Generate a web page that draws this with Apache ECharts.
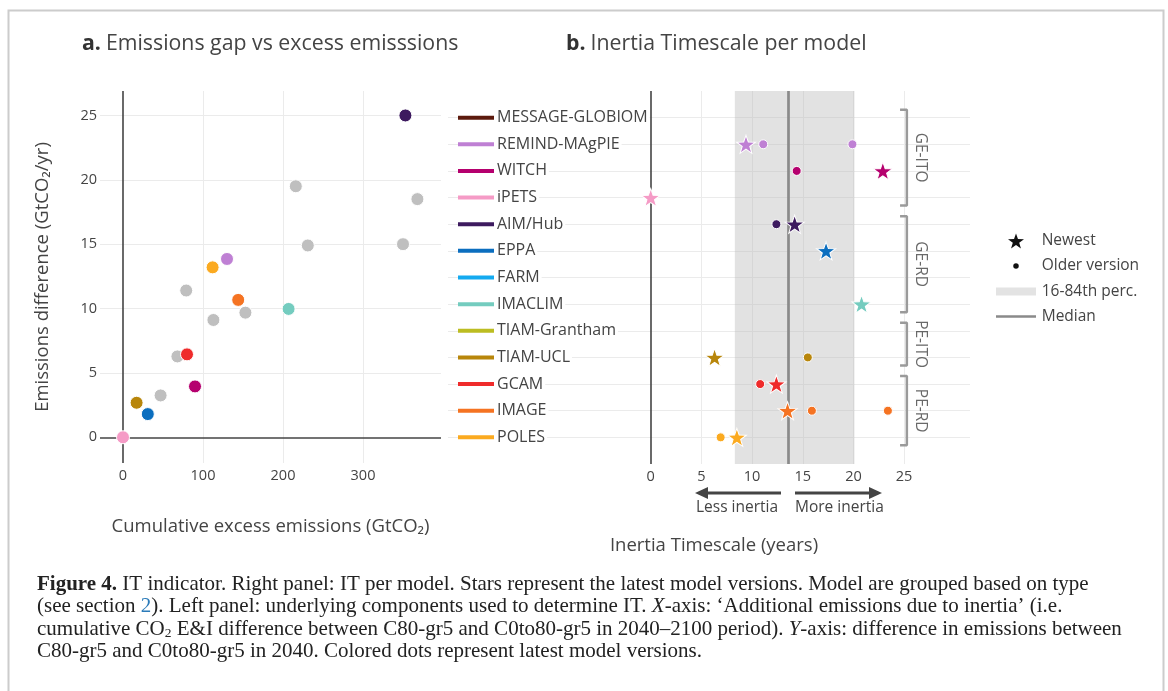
<!DOCTYPE html>
<html><head><meta charset="utf-8">
<script src="https://cdn.jsdelivr.net/npm/echarts@6/dist/echarts.min.js"></script>
<style>html,body{margin:0;padding:0;background:#fff}#c{width:1168px;height:691px}</style>
</head><body><div id="c"></div>
<script>
// ---------- Panel a data ----------
const aLatestModels = ['AIM/Hub','REMIND-MAgPIE','POLES','IMAGE','IMACLIM','GCAM','WITCH','TIAM-UCL','EPPA','iPETS'];
const aLatestX = [353, 130, 112, 144, 207, 80, 90, 17, 31, 0];
const aLatestY = [25.0, 13.85, 13.2, 10.67, 9.97, 6.44, 3.95, 2.68, 1.8, 0];
const aOlderX = [216, 368, 231, 350, 79, 153, 113, 68, 47];
const aOlderY = [19.5, 18.5, 14.9, 15.0, 11.4, 9.68, 9.11, 6.28, 3.25];
const aXTicks = [0, 100, 200, 300];
const aYTicks = [0, 5, 10, 15, 20, 25];

// ---------- Panel b data ----------
const models = ['MESSAGE-GLOBIOM','REMIND-MAgPIE','WITCH','iPETS','AIM/Hub','EPPA','FARM','IMACLIM','TIAM-Grantham','TIAM-UCL','GCAM','IMAGE','POLES'];
const modelColors = ['#5c1a0d','#bf80d4','#b5006e','#f59bc6','#3d1a5f','#0b6ebf','#14aaf0','#74ccbf','#bcbd22','#b8860b','#ef2b2b','#f57322','#fbaa20'];
const newestIT = [null, 9.4, 22.9, 0.0, 14.2, 17.3, null, 20.8, null, 6.3, 12.4, 13.5, 8.5];
const olderModels = ['REMIND-MAgPIE','REMIND-MAgPIE','WITCH','AIM/Hub','TIAM-UCL','GCAM','IMAGE','IMAGE','POLES'];
const olderIT = [11.1, 19.9, 14.4, 12.4, 15.5, 10.8, 15.9, 23.4, 6.9];
const bXTicks = [0, 5, 10, 15, 20, 25];
const bandIT = [8.3, 20.1];
const medianIT = 13.56;
const groupNames = ['GE-ITO','GE-RD','PE-ITO','PE-RD'];
const groupFirst = ['MESSAGE-GLOBIOM','AIM/Hub','TIAM-Grantham','GCAM'];
const groupLast = ['iPETS','IMACLIM','TIAM-UCL','POLES'];

// ---------- helpers ----------
const STAR = 'path://M50 0 L61.76 33.82 L97.55 34.55 L69.02 56.18 L79.39 90.45 L50 70 L20.61 90.45 L30.98 56.18 L2.45 34.55 L38.24 33.82 Z';
const SANS = '"Open Sans","Noto Sans",sans-serif';
const SERIF = '"Liberation Serif",serif';
const TXT = '#444';
const GRID = '#ebebeb';
const colorOf = m => modelColors[models.indexOf(m)];
const isTick = (v, ticks) => ticks.some(t => Math.abs(t - v) < 1e-6);

const rowRich = { t: { fontFamily: SANS, fontSize: 16, fontWeight: 'normal', color: TXT, backgroundColor: '#fff', padding: [3, 2, 3, 3], verticalAlign: 'middle' } };
models.forEach((m, i) => { rowRich['c' + i] = { width: 36, height: 4, backgroundColor: modelColors[i], verticalAlign: 'middle' }; });

const ml = (data, color, width, z) => ({
  silent: true, z: z, symbol: ['none', 'none'], label: { show: false }, animation: false,
  lineStyle: { color: color, width: width, type: 'solid' }, emphasis: { disabled: true }, data: data
});

const series = [];
// Panel a gridlines + zero lines
series.push({ type: 'line', xAxisIndex: 0, yAxisIndex: 0, data: [], z: 1,
  markLine: ml([...aXTicks.filter(v => v !== 0).map(v => ({ xAxis: v })), ...aYTicks.filter(v => v !== 0).map(v => ({ yAxis: v }))], GRID, 1, 1) });
series.push({ type: 'line', xAxisIndex: 0, yAxisIndex: 0, data: [], z: 2,
  markLine: ml([{ xAxis: 0 }, { yAxis: 0 }], '#444', 1.6, 2) });
series.push({ type: 'scatter', xAxisIndex: 0, yAxisIndex: 0, z: 4, symbolSize: 13,
  itemStyle: { color: '#bfbfbf', borderColor: '#fff', borderWidth: 1, opacity: 1 },
  data: aOlderX.map((x, i) => [x, aOlderY[i]]) });
series.push({ type: 'scatter', xAxisIndex: 0, yAxisIndex: 0, z: 5, symbolSize: 13,
  data: aLatestX.map((x, i) => ({ value: [x, aLatestY[i]], itemStyle: { color: colorOf(aLatestModels[i]), borderColor: '#fff', borderWidth: 1, opacity: 1 } })) });

// Panel b gridlines
series.push({ type: 'line', xAxisIndex: 1, yAxisIndex: 1, data: [], z: 1,
  markLine: ml([...bXTicks.filter(v => v !== 0).map(v => ({ xAxis: v })), ...models.map((m, i) => ({ yAxis: i }))], GRID, 1, 1) });
series.push({ name: '16-84th perc.', type: 'line', xAxisIndex: 1, yAxisIndex: 1, data: [], z: 2,
  itemStyle: { color: '#e3e3e3' }, lineStyle: { color: '#e3e3e3' },
  markArea: { silent: true, z: 1.5, itemStyle: { color: 'rgba(185,185,185,0.42)' }, data: [[{ xAxis: bandIT[0] }, { xAxis: bandIT[1] }]] } });
series.push({ type: 'line', xAxisIndex: 1, yAxisIndex: 1, data: [], z: 2,
  markLine: ml([{ xAxis: 0 }], '#444', 1.6, 2) });
series.push({ name: 'Median', type: 'line', xAxisIndex: 1, yAxisIndex: 1, data: [], z: 2,
  itemStyle: { color: '#8a8a8a' }, lineStyle: { color: '#8a8a8a' },
  markLine: ml([{ xAxis: medianIT }], '#8a8a8a', 2.7, 2) });
// brackets
groupNames.forEach((g, k) => {
  const a = models.indexOf(groupFirst[k]) - 0.3, b = models.indexOf(groupLast[k]) + 0.3;
  series.push({ type: 'line', xAxisIndex: 1, yAxisIndex: 1, z: 4, symbol: 'none', silent: true,
    lineStyle: { color: '#9a9a9a', width: 2.5 },
    data: [[24.6, a], [25.27, a], [25.27, b], [24.6, b]] });
});
series.push({ type: 'scatter', xAxisIndex: 1, yAxisIndex: 1, z: 4, symbolSize: 0, silent: true,
  label: { show: true, position: 'inside', rotate: -90, formatter: p => p.name, color: TXT, fontFamily: SANS, fontSize: 15.5 },
  data: groupNames.map((g, k) => ({ name: g, value: [26.6, (models.indexOf(groupFirst[k]) + models.indexOf(groupLast[k])) / 2] })) });
series.push({ name: 'Older version', type: 'scatter', xAxisIndex: 1, yAxisIndex: 1, z: 5, symbolSize: 9,
  data: olderModels.map((m, i) => ({ value: [olderIT[i], models.indexOf(m)], itemStyle: { color: colorOf(m), borderColor: '#fff', borderWidth: 1, opacity: 1 } })) });
series.push({ name: 'Newest', type: 'scatter', xAxisIndex: 1, yAxisIndex: 1, z: 6, symbol: STAR, symbolSize: [19, 18],
  data: newestIT.map((v, i) => v === null ? null : ({ value: [v, i], itemStyle: { color: modelColors[i], borderColor: '#fff', borderWidth: 1, opacity: 1 } })).filter(d => d) });

// legend: icon centred at x=1016, text starting at x=1041.7
const legendBase = (name, icon, w, h, color, yc) => ({
  data: [{ name: name, icon: icon, itemStyle: { color: color, borderWidth: 0, opacity: 1 } }],
  left: 1016 - w / 2, top: yc - 9, itemWidth: w, itemHeight: h, padding: 0, selectedMode: false, symbolKeepAspect: false,
  textStyle: { color: TXT, fontFamily: SANS, fontSize: 15.5, lineHeight: 18, padding: [0, 0, 0, 1041.7 - (1016 + w / 2) - 5] }
});

const axisLbl = { color: TXT, fontFamily: SANS, fontSize: 14.5 };
const cap = (extra) => Object.assign({ fontFamily: SERIF, fontSize: 21, fontWeight: 'normal', color: '#222', lineHeight: 22.5 }, extra || {});

const option = {
  animation: false,
  backgroundColor: '#fff',
  title: [
    { text: '{b|a.} {n|Emissions gap vs excess emisssions}', left: 82, top: 33, padding: 0,
      textStyle: { fontWeight: 'normal', rich: { b: { fontFamily: SANS, fontSize: 21.3, fontWeight: 'bold', color: '#333' }, n: { fontFamily: SANS, fontSize: 21.3, fontWeight: 'normal', color: TXT } } } },
    { text: '{b|b.} {n|Inertia Timescale per model}', left: 566, top: 33, padding: 0,
      textStyle: { fontWeight: 'normal', rich: { b: { fontFamily: SANS, fontSize: 21.3, fontWeight: 'bold', color: '#333' }, n: { fontFamily: SANS, fontSize: 21.3, fontWeight: 'normal', color: TXT } } } },
    { left: 37, top: 573, padding: 0,
      text: [
        '{b|Figure 4.}{r| IT indicator. Right panel: IT per model. Stars represent the latest model versions. Model are grouped based on type}',
        '{r|(see section }{l|2}{r|). Left panel: underlying components used to determine IT. }{i|X}{r|-axis: \u2018Additional emissions due to inertia\u2019 (i.e.}',
        '{r|cumulative CO}{s|2}{r| E&I difference between C80-gr5 and C0to80-gr5 in 2040\u20132100 period). }{i|Y}{r|-axis: difference in emissions between}',
        '{r|C80-gr5 and C0to80-gr5 in 2040. Colored dots represent latest model versions.}'
      ].join('\n'),
      textStyle: { fontWeight: 'normal', rich: {
        r: cap(),
        b: cap({ fontWeight: 'bold' }),
        l: cap({ color: '#2b7bb9' }),
        i: cap({ fontStyle: 'italic' }),
        s: cap({ fontSize: 13.5, lineHeight: 13.5, verticalAlign: 'bottom' })
      } } }
  ],
  legend: [
    legendBase('Newest', STAR, 16, 15, '#111', 241),
    legendBase('Older version', 'circle', 5.5, 5.5, '#111', 266),
    legendBase('16-84th perc.', 'rect', 40, 8, '#e3e3e3', 291.5),
    legendBase('Median', 'rect', 40, 2.6, '#8a8a8a', 316.5)
  ],
  grid: [
    { left: 100, top: 91, width: 341, height: 372, containLabel: false },
    { left: 448, top: 91, width: 522, height: 373, containLabel: false }
  ],
  xAxis: [
    { gridIndex: 0, type: 'value', min: -28.75, max: 397.5, interval: 1.25,
      axisLine: { show: false, onZero: false }, axisTick: { show: false }, splitLine: { show: false },
      axisLabel: Object.assign({ margin: 5, formatter: v => (isTick(v, aXTicks) ? String(Math.round(v)) : '') }, axisLbl),
      name: 'Cumulative excess emissions (GtCO\u2082)', nameLocation: 'middle', nameGap: 53,
      nameTextStyle: { color: TXT, fontFamily: SANS, fontSize: 18.5, lineHeight: 22 } },
    { gridIndex: 1, type: 'value', min: -20, max: 31.5, interval: 5,
      axisLine: { show: false, onZero: false }, axisTick: { show: false }, splitLine: { show: false },
      axisLabel: Object.assign({ margin: 5, formatter: v => (isTick(v, bXTicks) ? String(Math.round(v)) : '') }, axisLbl),
      name: 'Inertia Timescale (years)', nameLocation: 'middle', nameGap: 71,
      nameTextStyle: { color: TXT, fontFamily: SANS, fontSize: 18.5, lineHeight: 22, padding: [0, 0, 0, 10] } }
  ],
  yAxis: [
    { gridIndex: 0, type: 'value', min: -2, max: 26.9, interval: 1,
      axisLine: { show: false, onZero: false }, axisTick: { show: false }, splitLine: { show: false },
      axisLabel: Object.assign({ margin: 3, formatter: v => (isTick(v, aYTicks) ? String(Math.round(v)) : '') }, axisLbl),
      name: 'Emissions difference (GtCO\u2082/yr)', nameLocation: 'middle', nameGap: 46,
      nameTextStyle: { color: TXT, fontFamily: SANS, fontSize: 18.5, lineHeight: 22 } },
    { gridIndex: 1, type: 'value', min: -1, max: 13, interval: 1, inverse: true, z: 3,
      axisLine: { show: false, onZero: false }, axisTick: { show: false }, splitLine: { show: false },
      axisLabel: { inside: true, margin: 10, rich: rowRich,
        formatter: v => { const i = Math.round(v); return (i >= 0 && i < models.length) ? '{c' + i + '|}{t|' + models[i] + '}' : ''; } } }
  ],
  graphic: [
    { type: 'rect', silent: true, shape: { x: 8.5, y: 10.5, width: 1155, height: 720 }, style: { fill: 'none', stroke: '#cccccc', lineWidth: 2 } },
    { type: 'line', silent: true, shape: { x1: 781, y1: 493, x2: 704, y2: 493 }, style: { stroke: '#444', lineWidth: 3 } },
    { type: 'polygon', silent: true, shape: { points: [[695, 493], [708, 487], [708, 499]] }, style: { fill: '#444' } },
    { type: 'line', silent: true, shape: { x1: 795, y1: 493, x2: 872, y2: 493 }, style: { stroke: '#444', lineWidth: 3 } },
    { type: 'polygon', silent: true, shape: { points: [[882, 493], [869, 487], [869, 499]] }, style: { fill: '#444' } },
    { type: 'text', silent: true, style: { text: 'Less inertia', x: 696, y: 508, fill: TXT, font: '15.5px "Open Sans"', textVerticalAlign: 'middle', verticalAlign: 'middle' } },
    { type: 'text', silent: true, style: { text: 'More inertia', x: 795, y: 508, fill: TXT, font: '15.5px "Open Sans"', textVerticalAlign: 'middle', verticalAlign: 'middle' } }
  ],
  series: series
};

const chart = echarts.init(document.getElementById('c'), null, { renderer: 'canvas' });
chart.setOption(option);
</script>
</body></html>
